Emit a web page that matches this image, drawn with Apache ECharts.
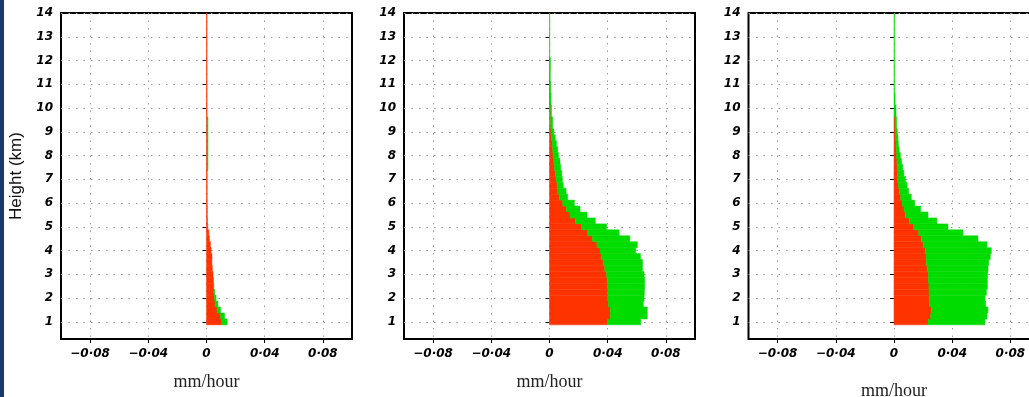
<!DOCTYPE html>
<html>
<head>
<meta charset="utf-8">
<script src="https://cdn.jsdelivr.net/npm/echarts@6/dist/echarts.min.js"></script>
<style>
  html, body { margin: 0; padding: 0; background: #fff; }
  #chart { width: 1029px; height: 397px; }
</style>
</head>
<body>
<div id="chart"></div>
<script>
// layer edges in km (bins between consecutive edges)
const levelEdges = [0.875, 1.125, 1.375, 1.625, 1.875, 2.125, 2.375, 2.625, 2.875, 3.125, 3.375,
  3.625, 3.875, 4.125, 4.375, 4.625, 4.875, 5.125, 5.375, 5.625, 5.875, 6.125, 6.375, 6.625,
  6.875, 7.125, 7.375, 7.625, 7.875, 8.125, 8.375, 8.625, 8.875, 9.125, 9.625, 10.125, 10.625,
  11.125, 11.625, 12.125, 12.625, 13.125, 13.625, 14.0]

// panel 1 (mm/hour): red part and red+green total
const red1 = [0.0105, 0.0096, 0.0073, 0.0060, 0.0055, 0.0051, 0.0050, 0.0048, 0.0045, 0.0040, 0.0037,
  0.0038, 0.0032, 0.0027, 0.0020, 0.0016, 0.0009, 0.0007, 0.0006, 0.0006, 0.0005, 0.0005, 0.0005,
  0.0005, 0.0005, 0.0005, 0.0005, 0.0005, 0.0005, 0.0005, 0.0005, 0.0005, 0.0005, 0.0005, 0.0004,
  0.0004, 0.0004, 0.0004, 0.0004, 0.0004, 0.0004, 0.0004, 0.0004]
const total1 = [0.0142, 0.0124, 0.0096, 0.0078, 0.0066, 0.0055, 0.0050, 0.0048, 0.0045, 0.0040, 0.0037,
  0.0038, 0.0032, 0.0027, 0.0020, 0.0016, 0.0009, 0.0007, 0.0006, 0.0006, 0.0005, 0.0005, 0.0005,
  0.0005, 0.0005, 0.0005, 0.0010, 0.0010, 0.0010, 0.0010, 0.0010, 0.0010, 0.0010, 0.0010, 0.0004,
  0.0004, 0.0004, 0.0004, 0.0004, 0.0004, 0.0004, 0.0004, 0.0004]

// panel 2
const red2 = [0.0399, 0.0417, 0.0417, 0.0405, 0.0400, 0.0400, 0.0399, 0.0397, 0.0392, 0.0380, 0.0369,
  0.0356, 0.0347, 0.0326, 0.0296, 0.0262, 0.0221, 0.0178, 0.0141, 0.0116, 0.0091, 0.0068, 0.0057,
  0.0053, 0.0045, 0.0040, 0.0034, 0.0030, 0.0025, 0.0022, 0.0018, 0.0014, 0.0010, 0.0008, 0.0007,
  0.0004, 0.0002, 0.0001, 0.0001, 0, 0, 0, 0]
const total2 = [0.0627, 0.0672, 0.0672, 0.0645, 0.0650, 0.0652, 0.0654, 0.0654, 0.0650, 0.0639, 0.0639,
  0.0625, 0.0593, 0.0604, 0.0552, 0.0479, 0.0392, 0.0315, 0.0258, 0.0210, 0.0171, 0.0125, 0.0114,
  0.0095, 0.0088, 0.0084, 0.0077, 0.0072, 0.0062, 0.0056, 0.0048, 0.0040, 0.0030, 0.0022, 0.0014,
  0.0011, 0.0008, 0.0005, 0.0006, 0.0002, 0.0002, 0.0002, 0.0002]

// panel 3
const red3 = [0.0234, 0.0252, 0.0257, 0.0245, 0.0243, 0.0241, 0.0240, 0.0236, 0.0236, 0.0229, 0.0222,
  0.0220, 0.0215, 0.0200, 0.0188, 0.0170, 0.0135, 0.0105, 0.0078, 0.0069, 0.0055, 0.0046, 0.0037,
  0.0030, 0.0026, 0.0024, 0.0022, 0.0020, 0.0018, 0.0016, 0.0014, 0.0012, 0.0010, 0.0007, 0,
  0, 0, 0, 0, 0, 0, 0, 0]
const total3 = [0.0625, 0.0639, 0.0646, 0.0630, 0.0625, 0.0635, 0.0642, 0.0642, 0.0644, 0.0646, 0.0651,
  0.0662, 0.0669, 0.0639, 0.0577, 0.0474, 0.0371, 0.0295, 0.0234, 0.0183, 0.0142, 0.0119, 0.0100,
  0.0090, 0.0080, 0.0068, 0.0060, 0.0052, 0.0044, 0.0036, 0.0030, 0.0027, 0.0023, 0.0018, 0.0014,
  0.0008, 0.0003, 0.0003, 0.0003, 0.0003, 0.0003, 0.0003, 0.0003]

const xTicks = [-0.08, -0.04, 0, 0.04, 0.08]
const yTicks = [1, 2, 3, 4, 5, 6, 7, 8, 9, 10, 11, 12, 13, 14]
const xName = 'mm/hour'
const yName = 'Height (km)'

const RED = '#ff3300'
const GREEN = '#00dc00'

const panels = [
  { red: red1, total: total1, left: 61, nameGap: 34 },
  { red: red2, total: total2, left: 404, nameGap: 34 },
  { red: red3, total: total3, left: 748.5, nameGap: 43 }
]

const tickFont = {
  fontFamily: 'DejaVu Sans',
  fontStyle: 'italic',
  fontWeight: 'bold',
  fontSize: 12,
  color: '#000'
}
const dotted = { color: '#9a9a9a', width: 1, type: [1.5, 6] }

function fmtX(v) {
  if (v === 0) return '0'
  const s = Math.abs(v).toFixed(2).replace('.', '·')
  return v < 0 ? '\u2212' + s : s
}

// one layer: red from 0 to red value, green from red value to total
function renderLayer(params, api) {
  const lo = api.value(0), hi = api.value(1)
  const a = api.coord([0, lo])
  const b = api.coord([api.value(2), hi])
  const c = api.coord([api.value(3), hi])
  const h = a[1] - b[1]
  const children = []
  if (b[0] - a[0] > 0) {
    children.push({ type: 'rect', shape: { x: a[0], y: b[1], width: b[0] - a[0], height: h },
      style: { fill: RED, stroke: RED, lineWidth: 0.5 } })
  }
  if (c[0] - b[0] > 0) {
    children.push({ type: 'rect', shape: { x: b[0], y: b[1], width: c[0] - b[0], height: h },
      style: { fill: GREEN, stroke: GREEN, lineWidth: 0.5 } })
  }
  return { type: 'group', children }
}

const grid = [], xAxis = [], yAxis = [], series = []
panels.forEach((p, i) => {
  grid.push({
    left: p.left, top: 13, width: 291, height: 326,
    outerBoundsMode: 'none', containLabel: false,
    show: true, borderColor: '#000', borderWidth: 2, backgroundColor: 'transparent'
  })
  xAxis.push({
    gridIndex: i, type: 'value', min: -0.1, max: 0.1,
    name: xName, nameLocation: 'middle', nameGap: p.nameGap,
    nameTextStyle: { fontFamily: 'Liberation Serif', fontSize: 18, color: '#222' },
    axisLine: { show: false },
    axisTick: { show: true, inside: false, length: 4, customValues: xTicks, lineStyle: { color: '#000' } },
    axisLabel: Object.assign({ customValues: xTicks, margin: 9, formatter: fmtX }, tickFont),
    splitLine: { show: true, lineStyle: dotted }
  })
  yAxis.push({
    gridIndex: i, type: 'value', min: 0.28, max: 14,
    name: i === 0 ? yName : '', nameLocation: 'middle', nameGap: 36,
    nameTextStyle: { fontFamily: 'Liberation Sans', fontSize: 17, color: '#111' },
    axisLine: { show: false },
    axisTick: { show: true, inside: false, length: 4, customValues: yTicks, lineStyle: { color: '#000' } },
    axisLabel: Object.assign({ customValues: yTicks, margin: 8 }, tickFont),
    splitLine: { show: true, lineStyle: dotted }
  })
  const data = p.red.map((r, k) => [levelEdges[k], levelEdges[k + 1], r, p.total[k]])
  series.push({
    type: 'custom', xAxisIndex: i, yAxisIndex: i,
    renderItem: renderLayer,
    encode: { x: [2, 3], y: [0, 1] },
    data: data,
    silent: true
  })
})

const chart = echarts.init(document.getElementById('chart'))
chart.setOption({
  animation: false,
  backgroundColor: '#fff',
  grid, xAxis, yAxis, series,
  graphic: [{ type: 'rect', left: 0, top: 0, shape: { width: 4, height: 397 }, style: { fill: '#1b3a6b' } }]
})
</script>
</body>
</html>
